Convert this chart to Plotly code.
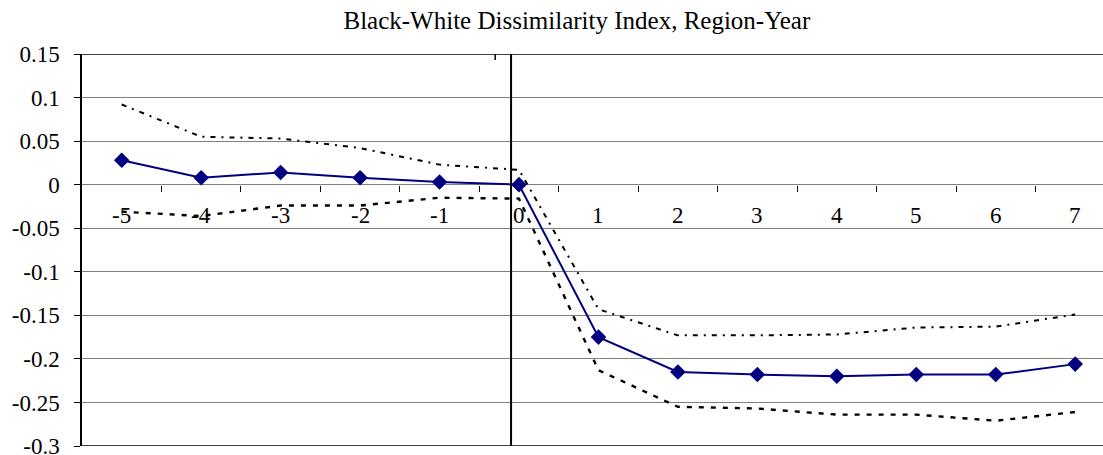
import plotly.graph_objects as go

# Event-time periods relative to the policy year
periods = [-5, -4, -3, -2, -1, 0, 1, 2, 3, 4, 5, 6, 7]
tick_labels = ["-5", "-4", "-3", "-2", "-1", "0", "1", "2", "3", "4", "5", "6", "7"]

# Point estimates and confidence bounds
estimate = [0.028, 0.008, 0.014, 0.008, 0.003, 0.0, -0.175, -0.215, -0.218, -0.220, -0.218, -0.218, -0.206]
upper_ci = [0.092, 0.055, 0.053, 0.042, 0.023, 0.017, -0.143, -0.173, -0.173, -0.172, -0.164, -0.163, -0.149]
lower_ci = [-0.031, -0.036, -0.024, -0.024, -0.015, -0.016, -0.213, -0.255, -0.257, -0.264, -0.264, -0.271, -0.261]

y_ticks = [0.15, 0.1, 0.05, 0, -0.05, -0.1, -0.15, -0.2, -0.25, -0.3]
y_tick_text = ["0.15", "0.1", "0.05", "0", "-0.05", "-0.1", "-0.15", "-0.2", "-0.25", "-0.3"]

FONT = "'Liberation Serif', 'Times New Roman', serif"

fig = go.Figure()

fig.add_trace(go.Scatter(
    x=periods, y=upper_ci, mode="lines",
    line=dict(color="black", width=2, dash="5px,6px,2px,6px"),
    showlegend=False, hoverinfo="skip"))
fig.add_trace(go.Scatter(
    x=periods, y=lower_ci, mode="lines",
    line=dict(color="black", width=2.4, dash="5px,7px"),
    showlegend=False, hoverinfo="skip"))
fig.add_trace(go.Scatter(
    x=periods, y=estimate, mode="lines+markers",
    line=dict(color="#000080", width=2),
    marker=dict(symbol="diamond", size=12, color="#000080"),
    showlegend=False))

# Category labels sit just under the zero line
for p, lab in zip(periods, tick_labels):
    fig.add_annotation(x=p, y=0, xref="x", yref="y", text=lab, showarrow=False,
                       yshift=-31, font=dict(family=FONT, size=23, color="black"))

shapes = [
    # top and bottom frame lines
    dict(type="line", xref="paper", yref="y", x0=0, x1=1, y0=0.15, y1=0.15,
         line=dict(color="black", width=1.5)),
    dict(type="line", xref="paper", yref="y", x0=0, x1=1, y0=-0.3, y1=-0.3,
         line=dict(color="black", width=1.5)),
    # vertical marker at the event year
    dict(type="line", xref="x", yref="y", x0=-0.1, x1=-0.1, y0=0.15, y1=-0.3,
         line=dict(color="black", width=2)),
    # small tick on the top border
    dict(type="line", xref="x", yref="y", x0=-0.3, x1=-0.3, y0=0.15, y1=0.143,
         line=dict(color="black", width=1.5)),
]

fig.update_layout(
    width=1103, height=455,
    margin=dict(l=82, r=0, t=54, b=9, autoexpand=False),
    paper_bgcolor="white", plot_bgcolor="white",
    title=dict(text="Black-White Dissimilarity Index, Region-Year",
               x=0.523, xanchor="center", y=0.956, yanchor="middle",
               font=dict(family=FONT, size=25, color="black")),
    shapes=shapes,
    xaxis=dict(
        range=[-5.5, 7.35], showgrid=False, zeroline=False, showline=False,
        tickmode="array", tickvals=[p + 0.5 for p in periods[:-1]],
        showticklabels=False, ticks="outside", ticklen=6, tickcolor="black",
        tickwidth=1, anchor="free", position=2 / 3, automargin=False),
    yaxis=dict(
        range=[-0.3, 0.15], tickmode="array", tickvals=y_ticks, ticktext=y_tick_text,
        showgrid=True, gridcolor="#808080", gridwidth=1.2, zeroline=False,
        showline=True, linecolor="black", linewidth=1.5,
        ticks="outside", ticklen=6, tickcolor="black",
        ticklabelstandoff=10, ticklabeloverflow="allow", automargin=False,
        tickfont=dict(family=FONT, size=23, color="black")),
)

fig.write_html("out.html")
